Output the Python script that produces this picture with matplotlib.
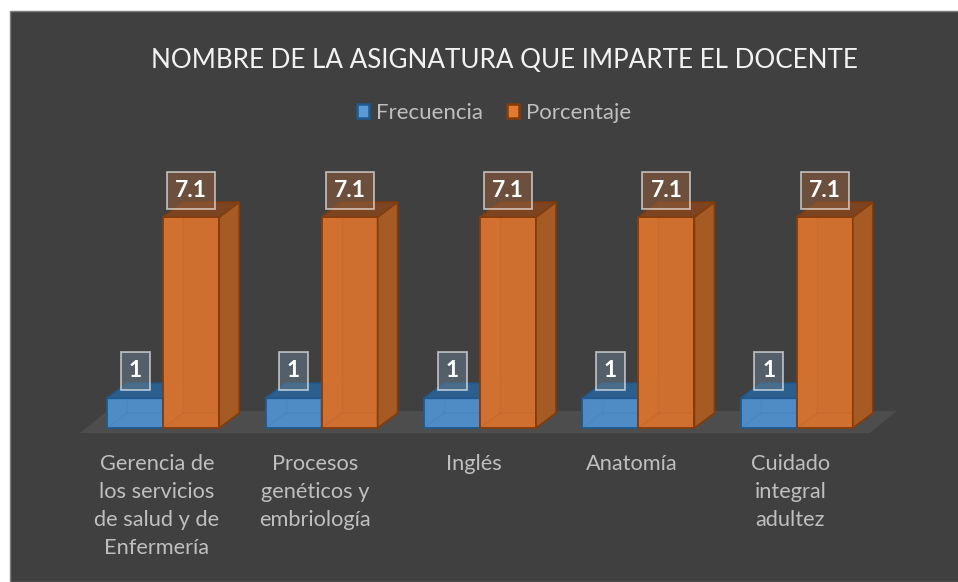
import matplotlib
matplotlib.use('Agg')
import matplotlib.pyplot as plt
from matplotlib.patches import Polygon, Patch, Rectangle
from matplotlib.path import Path
import numpy as np

categories = ['Gerencia de\nlos servicios\nde salud y de\nEnfermería', 'Procesos\ngenéticos y\nembriología',
              'Inglés', 'Anatomía', 'Cuidado\nintegral\nadultez']
frecuencia = [1, 1, 1, 1, 1]
porcentaje = [7.1, 7.1, 7.1, 7.1, 7.1]
series_names = ['Frecuencia', 'Porcentaje']
title = 'NOMBRE DE LA ASIGNATURA QUE IMPARTE EL DOCENTE'

W, H = 958, 582
plt.rcParams['font.family'] = ['Lato', 'DejaVu Sans']

fig = plt.figure(figsize=(W / 100, H / 100), dpi=100, facecolor='white')

# dark chart area
fig.add_artist(Rectangle((10 / W, 0), 1, 1 - 11 / H, transform=fig.transFigure,
                         facecolor='#404040', edgecolor='#7f7f7f', linewidth=1, zorder=-5))

# plot axes: 5 categories, 158.4 px each, baseline at y=428
ax = fig.add_axes([84 / W, (H - 428) / H, 792 / W, 237.6 / H])
ax.set_xlim(-0.5, 4.5)
ax.set_ylim(0, 8)
ax.patch.set_alpha(0)
for s in ax.spines.values():
    s.set_visible(False)

bar_w = 56 / 158.4
dx = 20 / 158.4
dy = 15 / 29.7

# floor
ax.add_patch(Polygon([(-0.525, -0.17), (-0.355, 0.57), (4.63, 0.57), (4.46, -0.17)], closed=True,
                     facecolor='#4e4d4d', edgecolor='none', clip_on=False, zorder=1))


def bar3d(x0, h, front, side, top, edge, z):
    # back faces show through the translucent front
    ax.add_patch(Polygon([(x0, 0), (x0 + dx, dy), (x0 + dx, h + dy), (x0, h)], facecolor=side, alpha=0.35,
                         edgecolor='none', clip_on=False, zorder=z))
    ax.add_patch(Polygon([(x0, 0), (x0 + bar_w, 0), (x0 + bar_w, h), (x0, h)], facecolor=front, alpha=0.96,
                         edgecolor=edge, lw=1.4, joinstyle='round', clip_on=False, zorder=z + 1))
    ax.plot([x0 + dx, x0 + dx], [dy, h], color=edge, alpha=0.07, lw=1, clip_on=False, zorder=z + 2)
    ax.plot([x0, x0 + dx, x0 + bar_w], [0, dy, dy], color=edge, alpha=0.1, lw=1, clip_on=False, zorder=z + 2)
    ax.add_patch(Polygon([(x0 + bar_w, 0), (x0 + bar_w + dx, dy), (x0 + bar_w + dx, h + dy), (x0 + bar_w, h)],
                         facecolor=side, edgecolor=edge, lw=1.2, clip_on=False, zorder=z + 2))
    ax.add_patch(Polygon([(x0, h), (x0 + bar_w, h), (x0 + bar_w + dx, h + dy), (x0 + dx, h + dy)],
                         facecolor=top, edgecolor=edge, lw=1.2, clip_on=False, zorder=z + 2))


def fixed_box(bw, bh):
    # label box with a set pixel size, centred on the text
    def box(x0, y0, width, height, mutation_size):
        cx, cy = x0 + width / 2, y0 + height / 2
        return Path([(cx - bw / 2, cy - bh / 2), (cx + bw / 2, cy - bh / 2), (cx + bw / 2, cy + bh / 2),
                     (cx - bw / 2, cy + bh / 2), (cx - bw / 2, cy - bh / 2)], closed=True)
    return box


x = np.arange(len(categories))
for i in x:
    bar3d(i - bar_w, frecuencia[i], '#508fcb', '#2d5f8c', '#2c5f8d', '#1f5a90', 3)
    bar3d(i, porcentaje[i], '#d6722f', '#a65b24', '#7c4420', '#843c0c', 7)

for i in x:
    ax.annotate(str(frecuencia[i]), (i - bar_w / 2, frecuencia[i]), xytext=(0, 20), textcoords='offset points',
                ha='center', va='center', color='white', fontsize=16.5, fontweight='bold', zorder=20,
                annotation_clip=False,
                bbox=dict(boxstyle=fixed_box(29, 38), facecolor=(0.40, 0.48, 0.55, 0.55),
                          edgecolor=(1, 1, 1, 0.6), lw=1.3))
    ax.annotate(str(porcentaje[i]), (i + bar_w / 2, porcentaje[i]), xytext=(0, 19.5), textcoords='offset points',
                ha='center', va='center', color='white', fontsize=16.5, fontweight='bold', zorder=20,
                annotation_clip=False,
                bbox=dict(boxstyle=fixed_box(48, 37), facecolor=(0.54, 0.36, 0.23, 0.6),
                          edgecolor=(1, 1, 1, 0.6), lw=1.3))

ax.set_yticks([])
ax.set_xticks(x - 0.04, categories)
ax.tick_params(axis='x', length=0, pad=19, colors='#bfbfbf', labelsize=15.7)
for lab in ax.get_xticklabels():
    lab.set_linespacing(1.5)

fig.text(504 / W, 1 - 60 / H, title, color='#f2f2f2', fontsize=18.7, ha='center', va='center')

handles = [Patch(facecolor='#5b9bd5', edgecolor='#1f5a90', linewidth=1.8, label=series_names[0]),
           Patch(facecolor='#e07b30', edgecolor='#843c0c', linewidth=1.8, label=series_names[1])]
leg = fig.legend(handles=handles, loc='center', bbox_to_anchor=(494 / W, 1 - 113 / H), ncol=2, frameon=False,
                 fontsize=16, handlelength=0.55, handleheight=0.55, handletextpad=0.3, columnspacing=1.1,
                 labelcolor='#bfbfbf')

fig.savefig('out.png', dpi=100)
